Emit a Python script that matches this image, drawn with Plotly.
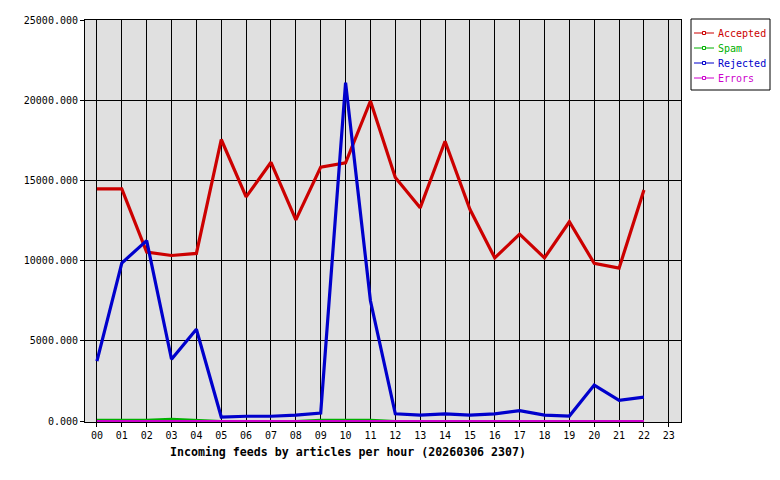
import plotly.graph_objects as go

hours = ["%02d" % h for h in range(24)]
series_names = ["Accepted", "Spam", "Rejected", "Errors"]
series_colors = ["#cc0000", "#00b000", "#0000cc", "#cc00cc"]

accepted = [14470, 14470, 10530, 10320, 10450, 17550, 13970, 16130, 12540, 15830,
            16100, 19950, 15180, 13290, 17440, 13200, 10170, 11650, 10170, 12420,
            9830, 9530, 14400]
spam = [75, 75, 75, 145, 75, 0, 0, 0, 0, 75, 75, 75, 0, 0, 0, 0, 0, 0, 0, 0, 0, 0, 0]
rejected = [3730, 9850, 11250, 3850, 5720, 250, 300, 300, 370, 500,
            21100, 7500, 450, 370, 450, 370, 450, 650, 370, 310,
            2240, 1290, 1490]
errors = [0] * 23

values = [accepted, spam, rejected, errors]
widths = [3.2, 2, 3.2, 2]

# page body has an 8px margin; lay out in screen coordinates then offset
OFF = 8
SW, SH = 780, 480
W, H = SW - OFF, SH - OFF
L, R, T, B = 85, 681, 20, 422  # screen px of plot area

fig = go.Figure()
for i in [1, 0, 2, 3]:
    fig.add_trace(go.Scatter(
        x=hours[:len(values[i])], y=values[i], mode="lines",
        name=series_names[i], showlegend=False,
        line=dict(color=series_colors[i], width=widths[i]),
    ))

def px(x):
    return (x - L) / (R - L)

def py(y):
    return (B - y) / (B - T)

shapes = []
annotations = []
shapes.append(dict(type="rect", xref="paper", yref="paper",
                   x0=px(691), x1=px(770), y0=py(90), y1=py(19),
                   line=dict(color="black", width=1), fillcolor="white", layer="above"))
for k, (nm, col) in enumerate(zip(series_names, series_colors)):
    yy = 33 + 15 * k
    shapes.append(dict(type="line", xref="paper", yref="paper",
                       x0=px(694), x1=px(714), y0=py(yy), y1=py(yy),
                       line=dict(color=col, width=1), layer="above"))
    shapes.append(dict(type="rect", xref="paper", yref="paper",
                       x0=px(702.5), x1=px(705.5), y0=py(yy + 1.5), y1=py(yy - 1.5),
                       line=dict(color=col, width=1), fillcolor="white", layer="above"))
    annotations.append(dict(xref="paper", yref="paper", x=px(716), y=py(yy),
                            xanchor="left", yanchor="middle", showarrow=False,
                            text=nm, font=dict(family="DejaVu Sans Mono", size=10, color=col)))

annotations.append(dict(xref="paper", yref="paper", x=px(348), y=py(452),
                        xanchor="center", yanchor="middle", showarrow=False,
                        text="<b>Incoming feeds by articles per hour (20260306 2307)</b>",
                        font=dict(family="DejaVu Sans Mono", size=11.6, color="black")))

fig.update_layout(
    width=W, height=H,
    margin=dict(l=L - OFF, r=SW - R, t=T - OFF, b=SH - B, pad=0, autoexpand=False),
    paper_bgcolor="white", plot_bgcolor="#e0e0e0",
    font=dict(family="DejaVu Sans Mono", size=10, color="black"),
    showlegend=False,
    shapes=shapes, annotations=annotations,
)
fig.update_xaxes(
    type="category", categoryorder="array", categoryarray=hours,
    tickvals=hours, ticktext=hours, automargin=False,
    range=[-0.48, 23.49],
    showgrid=True, gridcolor="black", gridwidth=1,
    showline=True, linecolor="black", linewidth=1, mirror=True,
    ticks="outside", ticklen=4, tickcolor="black",
    tickfont=dict(family="DejaVu Sans Mono", size=10, color="black"),
    zeroline=False,
)
fig.update_yaxes(
    range=[-60, 25000], tickvals=[0, 5000, 10000, 15000, 20000, 25000], tickformat=".3f",
    automargin=False,
    showgrid=True, gridcolor="black", gridwidth=1,
    showline=True, linecolor="black", linewidth=1, mirror=True,
    ticks="outside", ticklen=4, tickcolor="black",
    tickfont=dict(family="DejaVu Sans Mono", size=10, color="black"),
    zeroline=False,
)

fig.write_html("out.html")
